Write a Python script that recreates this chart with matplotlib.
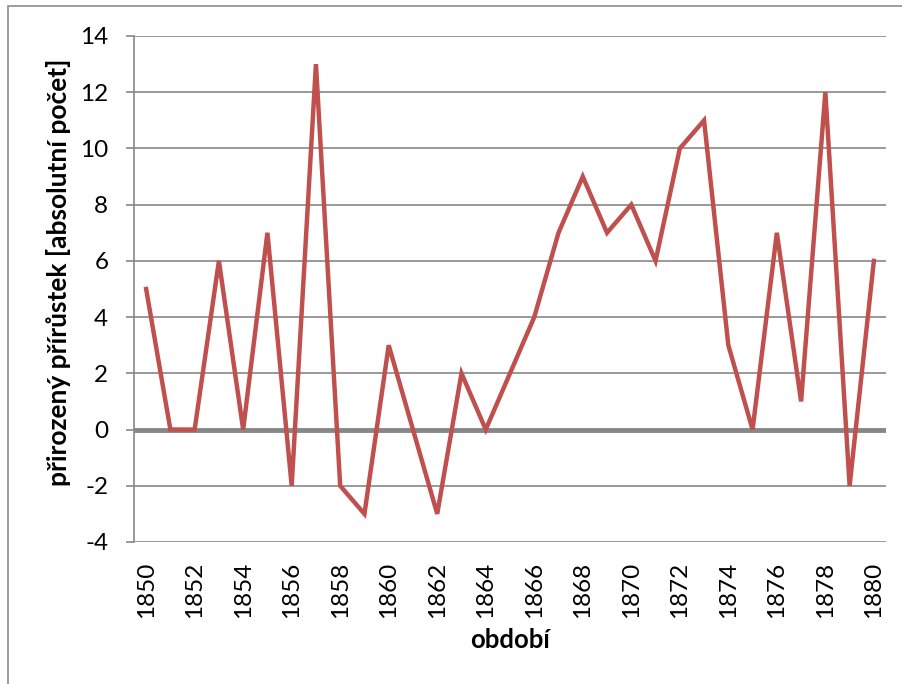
import matplotlib
matplotlib.use("Agg")
import matplotlib.pyplot as plt
from matplotlib.patches import Rectangle

years = list(range(1850, 1881))
values = [5, 0, 0, 6, 0, 7, -2, 13, -2, -3, 3, 0, -3, 2, 0, 2, 4, 7, 9, 7, 8, 6, 10, 11, 3, 0, 7, 1, 12, -2, 6]
yticks = [-4, -2, 0, 2, 4, 6, 8, 10, 12, 14]
xlabel = "období"
ylabel = "přirozený přírůstek [absolutní počet]"

plt.rcParams['font.family'] = ['Lato', 'DejaVu Sans']

fig = plt.figure(figsize=(9.03, 6.84), dpi=100)
fig.patches.append(Rectangle((8/903, -0.1), 1.2, 1 - 6/684 + 0.1, transform=fig.transFigure,
                             fill=False, edgecolor='#8c8c8c', linewidth=1.2))
ax = fig.add_axes([134/903, (684-542)/684, (886-134)/903, (542-36)/684])

idx = list(range(len(years)))
for t in yticks:
    if t == 0:
        continue
    ax.axhline(t, color='#878787', linewidth=1.2, zorder=1)
ax.axhline(0, color='#878787', linewidth=3.5, zorder=2)
ax.plot(idx, values, color='#C0504D', linewidth=3.2, zorder=3, solid_joinstyle='miter')

ax.set_xlim(-0.5, len(years) - 0.5)
ax.set_ylim(-4, 14)
ax.set_yticks(yticks)
ax.set_yticklabels([str(t) for t in yticks], fontsize=17.5)
ax.set_xticks(idx[::2])
ax.set_xticklabels([str(y) for y in years[::2]], rotation=90, fontsize=17.5)
ax.tick_params(axis='x', length=0, pad=14)
ax.tick_params(axis='y', length=6, color='#878787', width=1.2, pad=12.5)

for s in ['top', 'right', 'bottom']:
    ax.spines[s].set_visible(False)
ax.spines['left'].set_color('#878787')
ax.spines['left'].set_linewidth(1.2)

fig.text(510/903, 1 - 640/684, xlabel, fontsize=18.5, fontweight='bold', ha='center', va='center')
fig.text(59/903, 1 - 272/684, ylabel, fontsize=19, fontweight='bold', ha='center', va='center', rotation=90)

fig.savefig("out.png", dpi=100)
